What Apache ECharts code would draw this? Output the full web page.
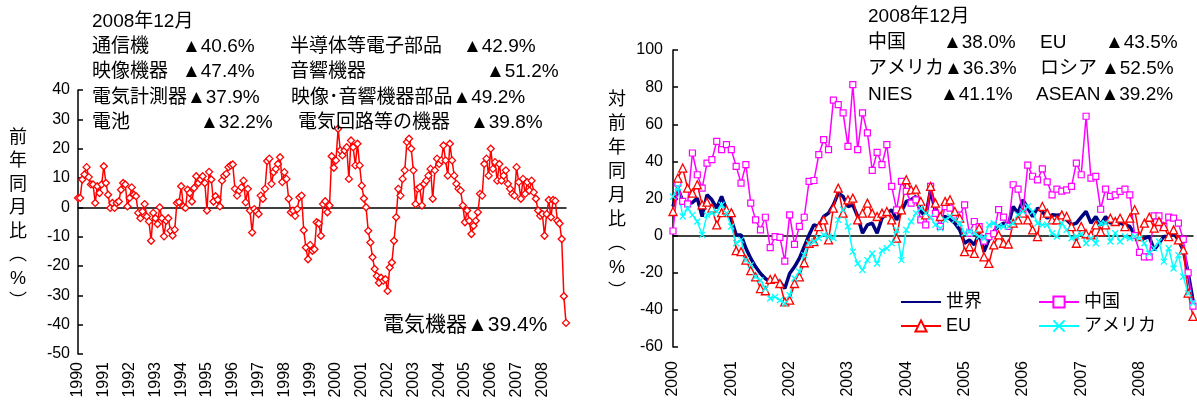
<!DOCTYPE html>
<html>
<head>
<meta charset="utf-8">
<script src="https://cdn.jsdelivr.net/npm/echarts@6/dist/echarts.min.js"></script>
<style>
html,body{margin:0;padding:0;background:#fff;}
#chart{width:1197px;height:405px;}
</style>
</head>
<body>
<div id="chart"></div>
<script>
// ---------- categories ----------
const yearsLeft = [1990,1991,1992,1993,1994,1995,1996,1997,1998,1999,2000,2001,2002,2003,2004,2005,2006,2007,2008];
const yearsRight = [2000,2001,2002,2003,2004,2005,2006,2007,2008];
const months = ['01','02','03','04','05','06','07','08','09','10','11','12'];

// ---------- left: 電気機器 (前年同月比 %) one row per year ----------
const elecMachinery = [
  [3.2, 3.2, 9.5, 11.2, 13.7, 10.3, 7.8, 7.8, 1.5, 7.2, 4.9, 7.8],
  [14.0, 8.3, 4.3, -0.2, 1.5, -0.2, 1.5, 2.0, 6.0, 8.3, 7.8, 0.3],
  [3.2, 6.8, 4.3, 3.8, -1.9, -3.7, -1.4, 1.1, -3.1, -4.8, -11.4, -1.9],
  [-3.7, -5.7, 0.0, -3.7, -9.9, -4.6, -3.7, -8.0, -9.6, -7.6, 1.5, 1.8],
  [7.2, 0.3, -0.2, 6.0, 4.9, 2.0, 6.6, 10.6, 8.3, 9.5, 10.6, 8.3],
  [-1.1, 12.1, 9.5, 2.0, 3.8, 2.6, 0.3, 9.1, 10.8, 11.4, 13.7, 14.3],
  [14.6, 6.3, 4.0, 5.7, 6.8, 9.1, 1.7, 6.3, -1.1, -8.6, -0.6, -1.4],
  [-2.3, 4.0, 2.9, 6.3, 15.8, 16.6, 8.0, 12.0, 13.1, 14.8, 17.1, 8.6],
  [12.0, 9.7, 2.9, -1.7, -1.1, -2.9, -0.6, 3.4, 4.0, -7.8, -13.7, -17.7],
  [-12.8, -14.8, -14.3, -5.1, -5.5, -9.7, 1.1, 2.1, -1.7, 0.6, 17.4, 13.5],
  [16.0, 26.8, 19.4, 17.7, 19.4, 20.5, 9.7, 22.8, 20.5, 14.3, 21.7, 14.3],
  [7.4, 3.0, 0.0, -8.0, -12.0, -17.0, -21.0, -23.4, -25.7, -24.0, -25.0, -24.5],
  [-28.5, -20.5, -18.8, -11.4, -3.4, 6.3, 4.0, 9.7, 12.6, 22.3, 23.4, 20.0],
  [12.6, 1.1, 6.3, 6.8, 0.6, 8.0, 9.1, 10.8, 13.1, 2.9, 12.6, 16.6],
  [14.8, 16.0, 21.1, 16.0, 10.8, 21.7, 16.0, 10.8, 8.0, 6.3, 5.7, 0.6],
  [-5.1, -1.1, -4.6, -9.1, -6.3, -4.6, -1.7, 4.6, 4.0, 14.8, 16.6, 10.8],
  [20.0, 13.1, 15.4, 9.1, 14.8, 9.1, 10.8, 12.6, 8.0, 6.3, 4.6, 4.0],
  [13.7, 8.6, 2.9, 9.7, 4.6, 8.6, 5.7, 9.1, 5.1, 2.9, -1.1, -2.9],
  [-2.3, -9.7, -2.3, 2.5, -3.4, 2.5, 2.2, -4.6, -5.5, -10.8, -30.3, -39.4]
];

// ---------- right: 対前年同月比 by destination ----------
const world = [
  [15.7, 25.6, 18.4, 17.1, 17.8, 20.2, 10.3, 22.0, 19.3, 14.8, 21.1, 13.9],
  [8.5, 0.4, 0.4, -6.8, -12.3, -16.8, -20.4, -23.1, -24.9, -24.0, -24.9, -28.5],
  [-20.4, -16.8, -12.3, -5.9, 0.4, 5.8, 4.9, 10.3, 12.1, 16.6, 22.9, 21.1],
  [15.7, 16.6, 10.3, 1.3, 5.8, 6.7, 1.3, 9.4, 12.1, 13.9, 8.5, 13.0],
  [18.4, 19.3, 21.1, 13.0, 10.3, 24.7, 13.0, 9.4, 10.3, 9.0, 6.7, 3.1],
  [-4.1, -2.3, -5.0, 1.3, -8.6, -2.3, 2.2, 4.9, 6.7, 5.8, 15.7, 12.1],
  [19.3, 14.8, 10.3, 14.8, 13.0, 9.4, 11.2, 11.0, 11.2, 8.5, 5.8, 6.7],
  [10.0, 13.0, 6.7, 10.3, 5.8, 10.3, 6.7, 8.5, 6.7, 5.8, 4.9, 0.4],
  [-2.0, -1.4, -0.5, -7.7, -4.1, -0.5, -0.5, 1.3, -2.3, -8.0, -20.0, -35.0]
];
const china = [
  [2.5, 28.3, 18.4, 17.1, 44.5, 32.8, 25.6, 39.1, 40.9, 50.8, 46.3, 49.0],
  [46.3, 37.3, 28.3, 38.2, 17.5, 8.5, 3.1, 9.9, -6.5, -0.5, -0.9, -13.7],
  [11.2, -4.7, 5.0, 9.9, 29.2, 29.7, 43.6, 51.7, 46.3, 73.0, 70.6, 66.1],
  [48.1, 81.4, 46.3, 66.1, 55.3, 35.1, 44.9, 38.2, 49.0, 26.5, 13.9, 29.2],
  [23.8, 17.5, 19.3, 8.5, 5.8, 26.5, 12.0, 5.0, 15.7, 14.8, 11.0, 11.0],
  [16.6, 1.3, 7.6, 4.9, -3.0, -0.5, 1.0, 14.0, 10.0, 5.0, 27.4, 25.0],
  [12.0, 38.0, 32.0, 30.0, 36.0, 29.0, 22.0, 25.0, 24.0, 24.7, 26.5, 39.1],
  [32.8, 64.3, 31.0, 31.9, 14.2, 25.0, 21.1, 22.0, 23.8, 25.0, 22.0, 0.0],
  [-9.0, -11.4, -11.4, 10.6, 10.6, 5.0, 10.0, 9.4, 6.7, -2.0, -20.0, -38.0]
];
const eu = [
  [13.0, 31.0, 36.4, 25.6, 22.9, 27.4, 16.6, 18.0, 14.8, 5.8, 12.4, 13.9],
  [12.4, -8.1, -8.6, -13.2, -18.9, -22.2, -28.5, -29.7, -23.6, -23.1, -25.8, -35.7],
  [-34.8, -25.8, -22.2, -14.6, -4.1, -3.2, 4.9, 8.5, -2.3, 14.8, 25.6, 12.1],
  [19.3, 20.2, 8.5, 12.1, 17.5, 12.1, 10.3, 12.1, 13.0, 8.5, -1.4, 13.9],
  [30.1, 24.7, 25.0, 18.4, 11.2, 26.5, 17.5, 10.3, 18.4, 19.3, 13.0, 9.4],
  [-8.6, -6.0, -9.6, 4.0, -11.4, -15.0, -5.0, 0.4, -4.1, -4.5, 6.7, 8.5],
  [12.1, 8.5, 3.1, -0.5, 15.7, 12.1, 8.5, 8.5, 11.2, 10.3, 4.9, -4.1],
  [4.9, 1.0, 0.4, 5.8, 2.2, 5.8, 9.4, 7.6, 9.4, 4.9, 9.4, 13.9],
  [-0.5, 6.7, 9.9, 4.0, 7.6, 4.9, -0.5, 3.1, -2.3, -7.7, -31.0, -43.5]
];
const usa = [
  [21.0, 26.1, 10.3, 14.8, 11.2, 7.6, 0.4, 11.2, 12.1, 13.0, 16.6, 12.1],
  [4.9, -4.1, -2.3, -13.2, -15.9, -22.2, -24.0, -28.5, -33.9, -33.0, -34.8, -36.6],
  [-32.1, -23.1, -19.5, -10.5, -4.1, -3.2, -1.4, 0.4, -0.5, -1.4, 8.5, 13.9],
  [4.9, -8.6, -15.0, -18.6, -13.2, -9.6, -15.0, -8.1, -6.8, -4.1, 3.1, -13.2],
  [3.1, 7.6, 12.1, 14.8, 12.1, 10.0, 5.8, 4.0, 8.5, 10.3, 8.5, 6.7],
  [1.3, 2.2, 1.3, -0.5, -1.4, 5.8, 6.7, 4.9, 4.9, 5.0, 6.7, 11.2],
  [13.0, 15.7, 13.0, 6.7, 5.8, 5.8, 1.3, -0.5, 6.7, 3.1, -1.4, -0.5],
  [0.9, -4.1, -1.4, -4.1, 6.7, 6.7, -3.2, 1.3, -3.2, -0.5, -1.4, -0.5],
  [-1.4, -4.1, -9.6, -6.8, -3.2, -14.0, -6.8, -17.7, -10.5, -22.2, -31.0, -36.3]
];

// ---------- tick settings ----------
const leftTicks = {min: -50, max: 40, interval: 10};
const rightTicks = {min: -60, max: 100, interval: 20};

// ---------- annotation texts ----------
const leftNotes = [
  ['2008年12月', 92, 22],
  ['通信機', 92, 47], ['▲40.6%', 182, 47], ['半導体等電子部品', 290, 47], ['▲42.9%', 463, 47],
  ['映像機器', 92, 72], ['▲47.4%', 182, 72], ['音響機器', 290, 72], ['▲51.2%', 486, 72],
  ['電気計測器▲37.9%', 92, 98], ['映像･音響機器部品▲49.2%', 291, 98],
  ['電池', 92, 123], ['▲32.2%', 200, 123], ['電気回路等の機器', 298, 123], ['▲39.8%', 470, 123]
];
const rightNotes = [
  ['2008年12月', 868, 17],
  ['中国', 868, 43], ['▲38.0%', 943, 43], ['EU', 1040, 43], ['▲43.5%', 1105, 43],
  ['アメリカ▲36.3%', 868, 69], ['ロシア', 1040, 69], ['▲52.5%', 1101, 69],
  ['NIES', 868, 95], ['▲41.1%', 940, 95], ['ASEAN▲39.2%', 1036, 95]
];

// ---------- build ----------
const catsL = yearsLeft.flatMap(y => months.map(m => y + '/' + m));
const catsR = yearsRight.flatMap(y => months.map(m => y + '/' + m));
const flat = a => a.flat();

const FONT_FAM = '"Liberation Sans", "Noto Sans CJK JP", sans-serif';
const noteFont = '19px ' + FONT_FAM;

function textEl(t, x, y, font) {
  return {
    type: 'text', x: x, y: y, silent: true, z: 100,
    style: {text: t, font: font, fill: '#000', textAlign: 'left',
            textVerticalAlign: 'middle', verticalAlign: 'middle'}
  };
}
const graphics = [];
leftNotes.concat(rightNotes).forEach(n => graphics.push(textEl(n[0], n[1], n[2], noteFont)));
graphics.push(textEl('電気機器▲39.4%', 383, 325, '21px ' + FONT_FAM));
graphics.push({
  type: 'text', x: 18, y: 126, silent: true, z: 100,
  style: {text: '前\n年\n同\n月\n比\n︵\n%\n︶', font: '18px ' + FONT_FAM, fill: '#000',
          textAlign: 'center', textVerticalAlign: 'top', verticalAlign: 'top', lineHeight: 23.5}
});
graphics.push({
  type: 'text', x: 617, y: 88, silent: true, z: 100,
  style: {text: '対\n前\n年\n同\n月\n比\n︵\n%\n︶', font: '18px ' + FONT_FAM, fill: '#000',
          textAlign: 'center', textVerticalAlign: 'top', verticalAlign: 'top', lineHeight: 24}
});

function labelAxis(grid, cats, margin) {
  return {
    type: 'category', gridIndex: grid, data: cats, boundaryGap: false, position: 'bottom',
    axisLine: {show: false, onZero: false}, axisTick: {show: false}, splitLine: {show: false},
    axisLabel: {
      interval: (i) => i % 12 === 0, rotate: 90, margin: margin,
      formatter: v => v.slice(0, 4), fontSize: 16, color: '#000', fontFamily: FONT_FAM
    }
  };
}
function zeroAxis(grid, cats) {
  return {
    type: 'category', gridIndex: grid, data: cats, boundaryGap: false, position: 'bottom',
    axisLine: {show: true, onZero: true, lineStyle: {color: '#000', width: 1.5}},
    axisTick: {show: false}, axisLabel: {show: false}, splitLine: {show: false}
  };
}
function valAxis(grid, t, margin) {
  return {
    type: 'value', gridIndex: grid, min: t.min, max: t.max, interval: t.interval,
    axisLine: {show: true, lineStyle: {color: '#000', width: 1.5}},
    axisTick: {show: true, inside: true, length: 5, lineStyle: {color: '#000', width: 1.5}},
    splitLine: {show: false},
    axisLabel: {fontSize: 16, color: '#000', margin: margin, fontFamily: FONT_FAM}
  };
}

const legendText = {fontSize: 18, lineHeight: 20, color: '#000', fontFamily: FONT_FAM};

const chart = echarts.init(document.getElementById('chart'), null, {renderer: 'canvas'});
chart.setOption({
  animation: false,
  backgroundColor: '#fff',
  grid: [
    {left: 78, top: 90, width: 488, height: 264},
    {left: 673, top: 50, width: 520, height: 297}
  ],
  xAxis: [labelAxis(0, catsL, 8), zeroAxis(0, catsL), labelAxis(1, catsR, 14), zeroAxis(1, catsR)],
  yAxis: [valAxis(0, leftTicks, 8), valAxis(1, rightTicks, 10)],
  legend: [
    {orient: 'vertical', left: 895, top: 287, itemWidth: 40, itemHeight: 14, itemGap: 4,
     selectedMode: false,
     data: [{name: '世界', itemStyle: {opacity: 0}}, 'EU'],
     textStyle: legendText},
    {orient: 'vertical', left: 1033, top: 287, itemWidth: 40, itemHeight: 14, itemGap: 4,
     selectedMode: false, data: ['中国', 'アメリカ'],
     textStyle: legendText}
  ],
  graphic: {elements: graphics},
  series: [
    {type: 'line', name: '電気機器', xAxisIndex: 0, yAxisIndex: 0, data: flat(elecMachinery),
     clip: false, symbol: 'diamond', symbolSize: 7, showAllSymbol: true,
     itemStyle: {color: '#fff', borderColor: '#FF0000', borderWidth: 1.3},
     lineStyle: {color: '#FF0000', width: 1.5}},
    {type: 'line', name: '世界', xAxisIndex: 2, yAxisIndex: 1, data: flat(world),
     clip: false, symbol: 'circle', symbolSize: 0, showSymbol: false,
     itemStyle: {color: '#000080'},
     lineStyle: {color: '#000080', width: 3.5}},
    {type: 'line', name: '中国', xAxisIndex: 2, yAxisIndex: 1, data: flat(china),
     clip: false, symbol: 'rect', symbolSize: 6, showAllSymbol: true,
     itemStyle: {color: '#fff', borderColor: '#FF00FF', borderWidth: 1.2},
     lineStyle: {color: '#FF00FF', width: 1.5}},
    {type: 'line', name: 'EU', xAxisIndex: 2, yAxisIndex: 1, data: flat(eu),
     clip: false, symbol: 'triangle', symbolSize: 8, showAllSymbol: true,
     itemStyle: {color: '#fff', borderColor: '#FF0000', borderWidth: 1.3},
     lineStyle: {color: '#FF0000', width: 1.5}},
    {type: 'line', name: 'アメリカ', xAxisIndex: 2, yAxisIndex: 1, data: flat(usa),
     clip: false, symbol: 'path://M0,0L10,10M10,0L0,10', symbolSize: 6, showAllSymbol: true,
     itemStyle: {color: '#00FFFF', borderColor: '#00FFFF', borderWidth: 1.3},
     lineStyle: {color: '#00FFFF', width: 1.5}}
  ]
});
</script>
</body>
</html>
